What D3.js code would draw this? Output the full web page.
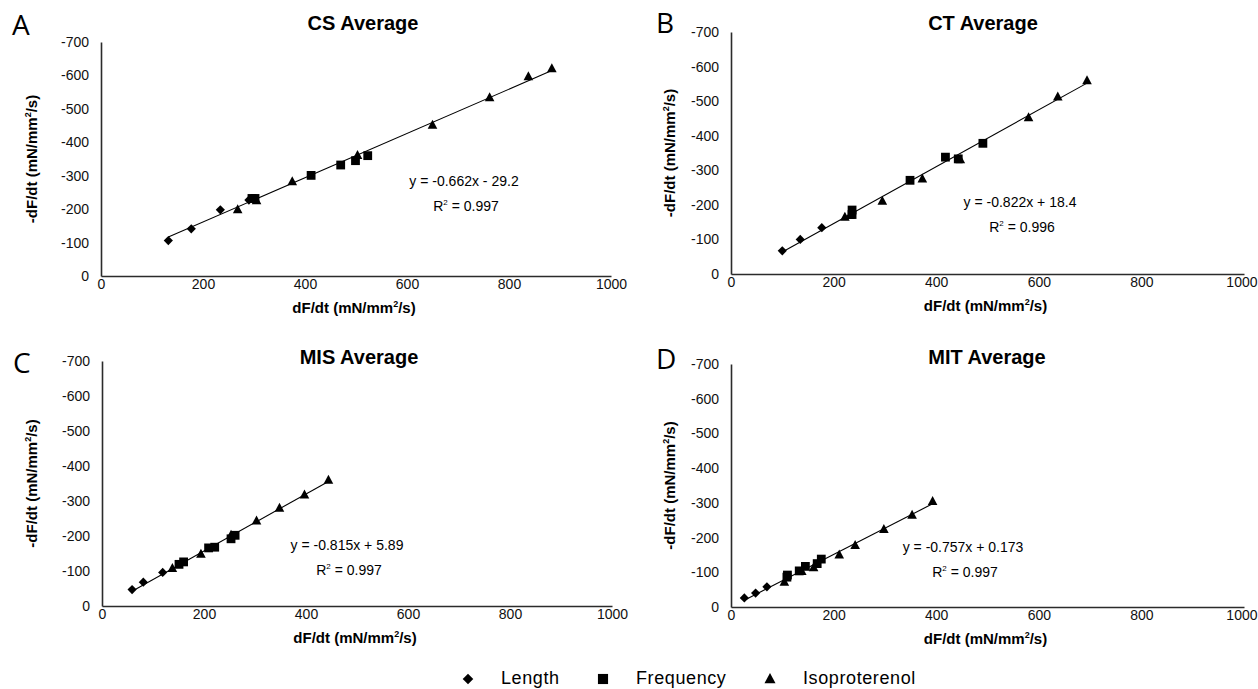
<!DOCTYPE html>
<meta charset="utf-8">
<style>
body { margin: 0; background: #fff; }
svg { font-family: "Liberation Sans", Arial, sans-serif; }
.tick text { font-size: 14px; fill: #111; }
.ttl { font-size: 20px; font-weight: bold; }
.axt { font-size: 15px; font-weight: bold; }
.eq { font-size: 14px; }
.letter { font-family: "Open Sans", sans-serif; font-size: 28px; }
.leg { font-size: 18px; letter-spacing: 0.6px; }
</style>
<svg width="1258" height="689"></svg>
<script src="https://d3js.org/d3.v7.min.js"></script>
<script>

var xTicks = [0, 200, 400, 600, 800, 1000];
var yTicks = [0, -100, -200, -300, -400, -500, -600, -700];

var letters = ["A", "B", "C", "D"];
var titles = ["CS Average", "CT Average", "MIS Average", "MIT Average"];
var slopes = [-0.662, -0.822, -0.815, -0.757];
var intercepts = [-29.2, 18.4, 5.89, 0.173];
var eqText = ["y = -0.662x - 29.2", "y = -0.822x + 18.4", "y = -0.815x + 5.89", "y = -0.757x + 0.173"];
var r2Text = ["0.997", "0.996", "0.997", "0.997"];

// [dF/dt, -dF/dt]
var csLength = [[132, -106], [177, -141], [234, -198], [290, -227]];
var csFrequency = [[296, -232], [302, -232], [412, -301], [470, -332], [499, -345], [523, -360]];
var csIso = [[268, -199], [305, -226], [375, -283], [503, -361], [650, -452], [762, -534], [838, -597], [884, -621]];

var ctLength = [[100, -67], [135, -100], [177, -134]];
var ctFrequency = [[236, -172], [236, -185], [349, -271], [418, -338], [443, -333], [491, -378]];
var ctIso = [[222, -165], [232, -170], [295, -211], [373, -276], [447, -331], [580, -453], [637, -513], [694, -560]];

var misLength = [[59, -47], [81, -68], [119, -96]];
var misFrequency = [[151, -119], [160, -126], [209, -166], [221, -168], [253, -192], [261, -202]];
var misIso = [[138, -108], [194, -149], [253, -203], [303, -244], [348, -280], [397, -318], [444, -360]];

var mitLength = [[26, -26], [48, -40], [70, -58]];
var mitFrequency = [[109, -86], [110, -92], [133, -104], [145, -117], [168, -125], [176, -138]];
var mitIso = [[104, -72], [138, -103], [161, -114], [211, -151], [242, -178], [298, -224], [353, -265], [393, -305]];

var seriesNames = ["Length", "Frequency", "Isoproterenol"];
var panelData = [
  [csLength, csFrequency, csIso],
  [ctLength, ctFrequency, ctIso],
  [misLength, misFrequency, misIso],
  [mitLength, mitFrequency, mitIso]
];

// plot boxes and label spots (pixels)
var boxes = [
  {l: 101, r: 611, t: 42, b: 276, tx: 363, ty: 23, ex: 464, ey: 181, lx: 12, ly: 25, ax: 32},
  {l: 731, r: 1244, t: 32, b: 274, tx: 983, ty: 23, ex: 1020, ey: 202, lx: 656, ly: 23, ax: 670},
  {l: 102, r: 612, t: 361, b: 606, tx: 359, ty: 357, ex: 347, ey: 545, lx: 13, ly: 363, ax: 32},
  {l: 731, r: 1244, t: 364, b: 607, tx: 987, ty: 357, ex: 963, ey: 547, lx: 656, ly: 359, ax: 670}
];

var shapes = [
  "M0,-4.6L4.6,0L0,4.6L-4.6,0Z",
  "M-4.4,-4.4H4.4V4.4H-4.4Z",
  "M0,-5.2L4.8,3.8H-4.8Z"
];

var svg = d3.select("svg");

// text with a small raised "2" in the middle
function superLabel(sel, before, after, size) {
  sel.append("tspan").text(before);
  sel.append("tspan").attr("font-size", Math.round(size * 0.6) + "px").attr("dy", -size * 0.45).text("2");
  sel.append("tspan").attr("dy", size * 0.45).text(after);
}

panelData.forEach(function(series, p) {
  var bx = boxes[p];
  var g = svg.append("g");

  var x = d3.scaleLinear().domain([0, 1000]).range([bx.l, bx.r]);
  var y = d3.scaleLinear().domain([0, -700]).range([bx.b, bx.t]);

  var xa = g.append("g")
      .attr("transform", "translate(0," + bx.b + ")")
      .call(d3.axisBottom(x).tickValues(xTicks).tickSize(0).tickPadding(3).tickFormat(function(d) { return String(d); }));
  // keep the last label inside the window
  xa.selectAll(".tick text").filter(function(d) { return x(d) + 16 > 1258; })
      .attr("text-anchor", "end").attr("x", function(d) { return 1257 - x(d); });

  g.append("g")
      .attr("transform", "translate(" + bx.l + ",0)")
      .call(d3.axisLeft(y).tickValues(yTicks).tickSize(0).tickPadding(12).tickFormat(function(d) { return String(d); }));
  g.selectAll(".domain").attr("stroke", "#2b2b2b").attr("stroke-width", 1.6);

  // trend line over the data range
  var all = [].concat.apply([], series);
  var xr = d3.extent(all, function(d) { return d[0]; });
  g.append("line")
      .attr("x1", x(xr[0])).attr("y1", y(slopes[p] * xr[0] + intercepts[p]))
      .attr("x2", x(xr[1])).attr("y2", y(slopes[p] * xr[1] + intercepts[p]))
      .attr("stroke", "#000").attr("stroke-width", 1.1);

  series.forEach(function(pts, s) {
    g.selectAll(null)
      .data(pts)
      .enter().append("path")
        .attr("d", shapes[s])
        .attr("transform", function(d) { return "translate(" + x(d[0]) + "," + y(d[1]) + ")"; })
        .attr("fill", "#000");
  });

  g.append("text").attr("class", "ttl")
      .attr("x", bx.tx).attr("y", bx.ty).attr("dy", "0.35em")
      .attr("text-anchor", "middle").text(titles[p]);

  g.append("text").attr("class", "letter")
      .attr("x", bx.lx).attr("y", bx.ly).attr("dy", "0.36em").text(letters[p]);

  g.append("text").attr("class", "eq")
      .attr("x", bx.ex).attr("y", bx.ey).attr("dy", "0.35em")
      .attr("text-anchor", "middle").text(eqText[p]);
  var r2 = g.append("text").attr("class", "eq")
      .attr("x", bx.ex + 2).attr("y", bx.ey + 25).attr("dy", "0.35em")
      .attr("text-anchor", "middle");
  superLabel(r2, "R", " = " + r2Text[p], 14);

  var xt = g.append("text").attr("class", "axt")
      .attr("x", (bx.l + bx.r) / 2 - 2).attr("y", bx.b + 32).attr("dy", "0.35em")
      .attr("text-anchor", "middle");
  superLabel(xt, "dF/dt (mN/mm", "/s)", 15);

  var yt = g.append("text").attr("class", "axt")
      .attr("transform", "translate(" + bx.ax + "," + (bx.t + bx.b) / 2 + ") rotate(-90)")
      .attr("dy", "0.35em")
      .attr("text-anchor", "middle");
  superLabel(yt, "-dF/dt (mN/mm", "/s)", 15);
});

// legend
var legX = [468, 603, 770];
var leg = svg.append("g").attr("transform", "translate(0,678)");
seriesNames.forEach(function(name, i) {
  leg.append("path").attr("d", shapes[i])
      .attr("transform", "translate(" + legX[i] + ",1) scale(1.15)")
      .attr("fill", "#000");
  leg.append("text").attr("class", "leg")
      .attr("x", legX[i] + 33).attr("y", 0).attr("dy", "0.35em")
      .text(name);
});

</script>
